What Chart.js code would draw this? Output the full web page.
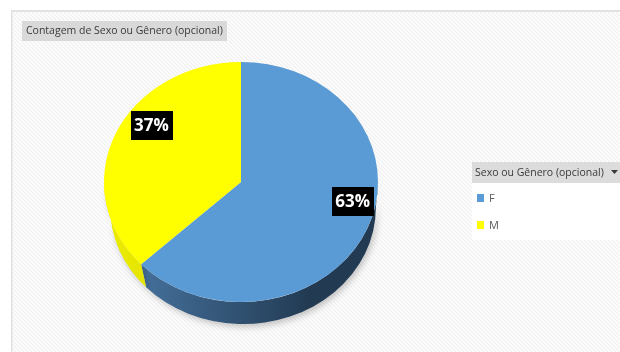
<!DOCTYPE html>
<html>
<head>
<meta charset="utf-8">
<script src="https://cdn.jsdelivr.net/npm/chart.js@4/dist/chart.umd.min.js"></script>
<style>
  html, body { margin: 0; padding: 0; background: #fff; }
  canvas { display: block; }
</style>
</head>
<body>
<canvas id="chart" width="620" height="352"></canvas>
<script>
const categories = ["F", "M"]
const counts = [63, 37]
const chartTitle = "Contagem de Sexo ou Gênero (opcional)"
const legendTitle = "Sexo ou Gênero (opcional)"

const topColors = ["#5b9bd5", "#ffff00"]
const sideColors = [["#4c7baa", "#223b53"], ["#ecec00", "#c8c800"]]

const TILT = 0.876   // vertical squash of the pie top
const DEPTH = 25.6   // drop of the underside, px
const BASE_SCALE = 0.97 // underside is a touch smaller (perspective)
const BASE_SHIFT = 2    // and sits a little to the right
const LIFT = 19      // labels sit toward the far side of the tilted disc
const FONT = "'Open Sans', 'Noto Sans', sans-serif"

// white page, hatched plot panel and the grey title tab
const panel = {
  id: "panel",
  beforeDraw(chart) {
    const ctx = chart.ctx
    const { width, height } = chart
    ctx.save()
    ctx.fillStyle = "#fff"
    ctx.fillRect(0, 0, width, height)

    ctx.beginPath()
    ctx.rect(12, 12, width - 12, height - 12)
    ctx.clip()
    ctx.strokeStyle = "#f1f1f1"
    ctx.lineWidth = 1.5
    for (let s = -height; s < width; s += 4) {
      ctx.beginPath()
      ctx.moveTo(s, 12)
      ctx.lineTo(s + height, 12 + height)
      ctx.stroke()
    }
    ctx.restore()

    ctx.save()
    ctx.fillStyle = "#e2e2e2"
    ctx.fillRect(11, 10, width - 11, 2)
    ctx.fillRect(11, 10, 1.5, height - 10)

    ctx.fillStyle = "#d9d9d9"
    ctx.fillRect(22, 21, 205, 20)
    ctx.fillStyle = "#3a3a3a"
    ctx.font = "10.5px " + FONT
    ctx.textBaseline = "middle"
    ctx.fillText(chartTitle, 26, 31)
    ctx.restore()
  }
}

function arcGeom(el) {
  return el.getProps(["x", "y", "startAngle", "endAngle", "outerRadius"], true)
}

// rim under the front half of the disc, then squash the slices into an ellipse
const pie3d = {
  id: "pie3d",
  beforeDatasetsDraw(chart) {
    const ctx = chart.ctx
    const arcs = chart.getDatasetMeta(0).data
    const { x: cx, y: cy } = arcGeom(arcs[0])

    ctx.save()
    ctx.translate(cx, cy)
    ctx.scale(1, TILT)
    ctx.translate(-cx, -cy)

    const d = DEPTH / TILT
    arcs.forEach((el, i) => {
      const { x, y, startAngle, endAngle, outerRadius: r } = arcGeom(el)
      for (const base of [0, 2 * Math.PI]) {
        const a = Math.max(startAngle, base)
        const b = Math.min(endAngle, base + Math.PI)
        if (b <= a) continue
        const grad = ctx.createLinearGradient(x - r, 0, x + r * 0.5, 0)
        grad.addColorStop(0, sideColors[i][0])
        grad.addColorStop(1, sideColors[i][1])
        ctx.save()
        ctx.shadowColor = "rgba(0,0,0,0.22)"
        ctx.shadowBlur = 6
        ctx.shadowOffsetX = 2
        ctx.shadowOffsetY = 3
        ctx.beginPath()
        ctx.arc(x, y, r, a, b)
        ctx.arc(x + BASE_SHIFT, y + d, r * BASE_SCALE, b, a, true)
        ctx.closePath()
        ctx.fillStyle = grad
        ctx.fill()
        ctx.restore()
      }
    })
  },
  afterDatasetsDraw(chart) {
    const ctx = chart.ctx
    ctx.restore()

    const arcs = chart.getDatasetMeta(0).data
    const total = counts.reduce((s, v) => s + v, 0)
    ctx.save()
    ctx.font = "bold 17px " + FONT
    ctx.textAlign = "center"
    ctx.textBaseline = "middle"
    arcs.forEach((el, i) => {
      const { x, y, startAngle, endAngle, outerRadius: r } = arcGeom(el)
      const mid = (startAngle + endAngle) / 2
      const px = x + 0.8 * r * Math.cos(mid) + 11
      const py = y + 0.8 * r * TILT * Math.sin(mid) - LIFT
      const text = Math.round(counts[i] / total * 100) + "%"
      const w = ctx.measureText(text).width + 7
      ctx.fillStyle = "#000"
      ctx.fillRect(Math.round(px - w / 2), Math.round(py - 14), Math.round(w), 29)
      ctx.fillStyle = "#fff"
      ctx.fillText(text, px, py + 1)
    })
    ctx.restore()
  }
}

// legend panel on the right, in the style of a pivot chart field button
const sideLegend = {
  id: "sideLegend",
  afterDraw(chart) {
    const ctx = chart.ctx
    const left = 472
    ctx.save()
    ctx.fillStyle = "#fff"
    ctx.fillRect(left, 183, chart.width - left, 57)
    ctx.fillStyle = "#dcdcdc"
    ctx.fillRect(left, 162, chart.width - left, 21)

    ctx.fillStyle = "#3a3a3a"
    ctx.font = "10.5px " + FONT
    ctx.textBaseline = "middle"
    ctx.fillText(legendTitle, 475, 173)
    ctx.beginPath()
    ctx.moveTo(611, 170)
    ctx.lineTo(618, 170)
    ctx.lineTo(614.5, 174)
    ctx.closePath()
    ctx.fill()

    categories.forEach((name, i) => {
      const y = 198 + i * 27
      ctx.fillStyle = topColors[i]
      ctx.fillRect(477, y - 4, 7, 8)
      ctx.fillStyle = "#5a5a5a"
      ctx.font = "11px " + FONT
      ctx.fillText(name, 489, y + 1)
    })
    ctx.restore()
  }
}

new Chart(document.getElementById("chart"), {
  type: "pie",
  data: {
    labels: categories,
    datasets: [{
      data: counts,
      backgroundColor: topColors,
      borderWidth: 0,
      hoverOffset: 0
    }]
  },
  options: {
    responsive: false,
    devicePixelRatio: 1,
    animation: false,
    layout: { padding: { left: 104, right: 242, top: 45, bottom: 33 } },
    plugins: {
      legend: { display: false },
      tooltip: { enabled: false }
    }
  },
  plugins: [panel, pie3d, sideLegend]
})
</script>
</body>
</html>
